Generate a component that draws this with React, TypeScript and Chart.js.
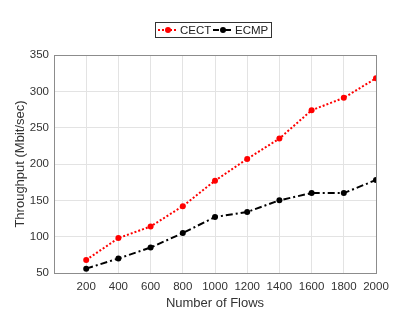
import React, { useEffect, useRef } from "react";
import { Chart, registerables } from "chart.js";

Chart.register(...registerables);

const flows = [200, 400, 600, 800, 1000, 1200, 1400, 1600, 1800, 2000];
const cect = [68, 98, 114, 142, 177, 207, 235, 274, 291, 318];
const ecmp = [56, 70, 85, 105, 127, 134, 150, 160, 160, 178];
const seriesNames = ["CECT", "ECMP"];
const yTicks = [50, 100, 150, 200, 250, 300, 350];

const FONT = "'Liberation Sans', Arial, sans-serif";

const frameAndLegend = {
  id: "frameAndLegend",
  afterDraw(chart: any) {
    const { ctx, chartArea } = chart;
    ctx.save();
    // frame
    ctx.strokeStyle = "#8c8c8c";
    ctx.lineWidth = 1;
    ctx.strokeRect(
      Math.round(chartArea.left) + 0.5,
      Math.round(chartArea.top) + 0.5,
      Math.round(chartArea.right - chartArea.left),
      Math.round(chartArea.bottom - chartArea.top)
    );
    // legend
    const bx = 155.5, by = 22.5, bw = 116, bh = 15;
    ctx.fillStyle = "#ffffff";
    ctx.fillRect(bx, by, bw, bh);
    ctx.strokeStyle = "#333333";
    ctx.strokeRect(bx, by, bw, bh);
    const cy = by + bh / 2;
    const items = [
      { x0: 158, x1: 178, color: "#ff0000", dash: [2, 2], label: seriesNames[0], tx: 180 },
      { x0: 213, x1: 233, color: "#000000", dash: [6, 2, 2, 2], label: seriesNames[1], tx: 235 },
    ];
    ctx.font = `11.5px ${FONT}`;
    ctx.textBaseline = "middle";
    items.forEach((it) => {
      ctx.strokeStyle = it.color;
      ctx.lineWidth = 2;
      ctx.setLineDash(it.dash);
      ctx.beginPath();
      ctx.moveTo(it.x0, cy);
      ctx.lineTo(it.x1, cy);
      ctx.stroke();
      ctx.setLineDash([]);
      ctx.fillStyle = it.color;
      ctx.beginPath();
      ctx.arc((it.x0 + it.x1) / 2, cy, 3, 0, Math.PI * 2);
      ctx.fill();
      ctx.fillStyle = "#222222";
      ctx.fillText(it.label, it.tx, cy + 0.5);
    });
    ctx.restore();
  },
};

export default function App() {
  const ref = useRef<HTMLCanvasElement>(null);
  useEffect(() => {
    if (!ref.current) return;
    const chart = new Chart(ref.current, {
      type: "line",
      data: {
        datasets: [
          {
            label: seriesNames[0],
            data: flows.map((f, i) => ({ x: f, y: cect[i] })),
            borderColor: "#ff0000",
            backgroundColor: "#ff0000",
            borderWidth: 2,
            borderDash: [2, 2],
            pointRadius: 3,
            pointBorderWidth: 0,
            tension: 0,
          },
          {
            label: seriesNames[1],
            data: flows.map((f, i) => ({ x: f, y: ecmp[i] })),
            borderColor: "#000000",
            backgroundColor: "#000000",
            borderWidth: 2,
            borderDash: [7, 3, 2, 3],
            pointRadius: 3,
            pointBorderWidth: 0,
            tension: 0,
          },
        ],
      },
      options: {
        responsive: false,
        animation: false,
        layout: { padding: { left: 0, top: 55, right: 39, bottom: 0 } },
        plugins: { legend: { display: false }, tooltip: { enabled: false } },
        scales: {
          x: {
            type: "linear",
            min: 0,
            max: 2000,
            afterFit: (s: any) => { s.height = 39; },
            afterBuildTicks: (s: any) => { s.ticks = flows.map((v) => ({ value: v })); },
            grid: { color: "#e3e3e3", drawTicks: false },
            border: { display: false },
            ticks: {
              font: { family: FONT, size: 11.5 },
              color: "#333333",
              padding: 7,
              maxRotation: 0,
              autoSkip: false,
              callback: (v: any) => String(v),
            },
            title: {
              display: true,
              text: "Number of Flows",
              font: { family: FONT, size: 13 },
              color: "#333333",
              padding: { top: 0, bottom: 1 },
            },
          },
          y: {
            min: 50,
            max: 350,
            afterFit: (s: any) => { s.width = 54; },
            afterBuildTicks: (s: any) => { s.ticks = yTicks.map((v) => ({ value: v })); },
            grid: { color: "#e3e3e3", drawTicks: false },
            border: { display: false },
            ticks: {
              font: { family: FONT, size: 11.5 },
              color: "#333333",
              padding: 5,
              callback: (v: any) => String(v),
            },
            title: {
              display: true,
              text: "Throughput (Mbit/sec)",
              font: { family: FONT, size: 13 },
              color: "#333333",
              padding: { top: 13, bottom: 0 },
            },
          },
        },
      },
      plugins: [frameAndLegend],
    });
    return () => chart.destroy();
  }, []);
  return (
    <div style={{ position: "absolute", left: 0, top: 0, width: 415, height: 312, background: "#fff" }}>
      <canvas ref={ref} width={415} height={312} />
    </div>
  );
}
